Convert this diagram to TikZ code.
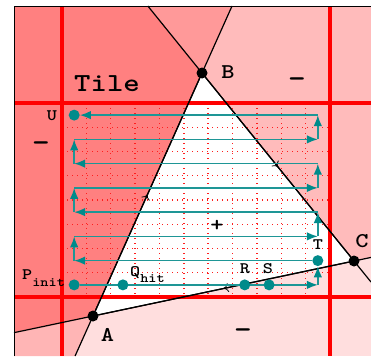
\documentclass[tikz,border=0pt]{standalone}
\usepackage{graphicx}
\usetikzlibrary{arrows.meta,decorations.markings}
\definecolor{rA}{RGB}{255,128,128}
\definecolor{rW}{RGB}{255,153,153}
\definecolor{rTR}{RGB}{255,187,187}
\definecolor{rBL}{RGB}{255,181,181}
\definecolor{rB}{RGB}{255,222,222}
\definecolor{tealD}{RGB}{0,139,139}
\definecolor{tealL}{RGB}{30,150,150}
\definecolor{gridred}{RGB}{255,30,30}
\newcommand\mylbl[2]{\scalebox{1.2}[1]{\fontsize{#1}{#1}\selectfont\ttfamily\bfseries #2}}
\pgfdeclarelayer{back}
\pgfdeclarelayer{mid}
\pgfsetlayers{back,mid,main}
\tikzset{
  bdot/.style={circle,fill=black,inner sep=0pt,minimum size=11pt},
  tdot/.style={circle,fill=tealD,inner sep=0pt,minimum size=11pt},
  lbl/.style={inner sep=0pt},
  scanline/.style={draw=tealL,line width=1.5pt,-{Latex[length=11pt,width=8.5pt,color=tealD]}},
  edgeline/.style={draw=black,line width=1.2pt},
  midarrow/.style={postaction={decorate},decoration={markings,mark=at position 0.5 with {\arrow{To[length=5pt,width=9pt,line width=0.8pt]}}}},
  redline/.style={draw=red,line width=3.2pt},
  gridline/.style={draw=gridred,line width=1.4pt,dash pattern=on 1.4pt off 3.6pt}
}
\begin{document}
\begin{tikzpicture}[x=1pt,y=-1pt]
\useasboundingbox (0,0) rectangle (371,356);
% triangle vertices
\node[bdot] (A) at (93,316) {};
\node[bdot] (B) at (202,73) {};
\node[bdot] (C) at (354,261) {};
% line extension ends
\coordinate (ab1) at (75.06,356);
\coordinate (ab2) at (232.05,6);
\coordinate (bc1) at (147.83,6);
\coordinate (bc2) at (371,282.03);
\coordinate (ca1) at (371,257.42);
\coordinate (ca2) at (14,332.65);
% scan points
\node[tdot] (P) at (74.18,284.875) {};
\node[tdot] (Q) at (122.91,284.875) {};
\node[tdot] (R) at (244.73,284.875) {};
\node[tdot] (S) at (269.09,284.875) {};
\node[tdot] (T) at (317.82,260.625) {};
\node[tdot] (U) at (74.18,115.125) {};
\coordinate (r7) at (317.82,284.875);
\coordinate (l6) at (74.18,260.625);
\coordinate (l5) at (74.18,236.375);
\coordinate (r5) at (317.82,236.375);
\coordinate (r4) at (317.82,212.125);
\coordinate (l4) at (74.18,212.125);
\coordinate (l3) at (74.18,187.875);
\coordinate (r3) at (317.82,187.875);
\coordinate (r2) at (317.82,163.625);
\coordinate (l2) at (74.18,163.625);
\coordinate (l1) at (74.18,139.375);
\coordinate (r1) at (317.82,139.375);
\coordinate (r0) at (317.82,115.125);
\begin{pgfonlayer}{back}
  \fill[rB] (14,6) rectangle (371,356);
  \fill[rBL] (93,316) -- (ca2) -- (14,356) -- (ab1) -- cycle;
  \fill[rTR] (202,73) -- (ab2) -- (371,6) -- (ca1) -- (354,261) -- cycle;
  \fill[rW] (202,73) -- (bc1) -- (ab2) -- cycle;
  \fill[rA] (93,316) -- (202,73) -- (bc1) -- (14,6) -- (ca2) -- cycle;
  \fill[white] (93,316) -- (202,73) -- (354,261) -- cycle;
  % dotted grid
  \foreach \k in {1,...,10} {
    \draw[gridline] ({62+\k*24.3636},103) -- ({62+\k*24.3636},297);
  }
  \foreach \j in {1,...,7} {
    \draw[gridline] (62,{103+\j*24.25}) -- (330,{103+\j*24.25});
  }
  % tile borders
  \draw[redline] (62,6) -- (62,356);
  \draw[redline] (330,6) -- (330,356);
  \draw[redline] (14,103) -- (371,103);
  \draw[redline] (14,297) -- (371,297);
  % frame
  \draw[line width=1pt] (14,356) -- (14,6) -- (371,6);
  % edges
  \draw[edgeline] (ab1) -- (ab2);
  \draw[edgeline] (bc1) -- (bc2);
  \draw[edgeline] (ca1) -- (ca2);
  \draw[edgeline,midarrow] (A) -- (B);
  \draw[edgeline,midarrow] (B) -- (C);
  \draw[edgeline,midarrow] (C) -- (A);
\end{pgfonlayer}
\begin{pgfonlayer}{mid}
  \draw[scanline] (P) -- (r7);
  \draw[scanline] (r7) -- (T);
  \draw[scanline] (T) -- (l6);
  \draw[scanline] (l6) -- (l5);
  \draw[scanline] (l5) -- (r5);
  \draw[scanline] (r5) -- (r4);
  \draw[scanline] (r4) -- (l4);
  \draw[scanline] (l4) -- (l3);
  \draw[scanline] (l3) -- (r3);
  \draw[scanline] (r3) -- (r2);
  \draw[scanline] (r2) -- (l2);
  \draw[scanline] (l2) -- (l1);
  \draw[scanline] (l1) -- (r1);
  \draw[scanline] (r1) -- (r0);
  \draw[scanline] (r0) -- (U);
\end{pgfonlayer}
% labels
\node[lbl] (tile) at (107,84) {\mylbl{26}{Tile}};
\node[lbl] (lB) at (228,72.5) {\mylbl{21}{B}};
\node[lbl] (lA) at (107.5,334.5) {\mylbl{21}{A}};
\node[lbl] (lC) at (362,241.5) {\mylbl{21}{C}};
\node[lbl] (lU) at (52,116) {\mylbl{16}{U}};
\node[lbl] (lT) at (318,245) {\mylbl{16}{T}};
\node[lbl] (lR) at (245,269) {\mylbl{16}{R}};
\node[lbl] (lS) at (268,269) {\mylbl{16}{S}};
\node[lbl] (plus) at (217,226) {\mylbl{21}{+}};
\node[lbl,anchor=base] (m1) at (41,151) {\mylbl{28}{-}};
\node[lbl,anchor=base] (m2) at (297,87) {\mylbl{28}{-}};
\node[lbl,anchor=base] (m3) at (243,338) {\mylbl{28}{-}};
\node[lbl,anchor=base west] (lP) at (22,279.5) {\mylbl{16}{P}\raisebox{-6.5pt}{\mylbl{13}{init}}};
\node[lbl,anchor=base west] (lQ) at (130,276) {\mylbl{16}{Q}\raisebox{-6pt}{\mylbl{13}{hit}}};
\end{tikzpicture}
\end{document}
